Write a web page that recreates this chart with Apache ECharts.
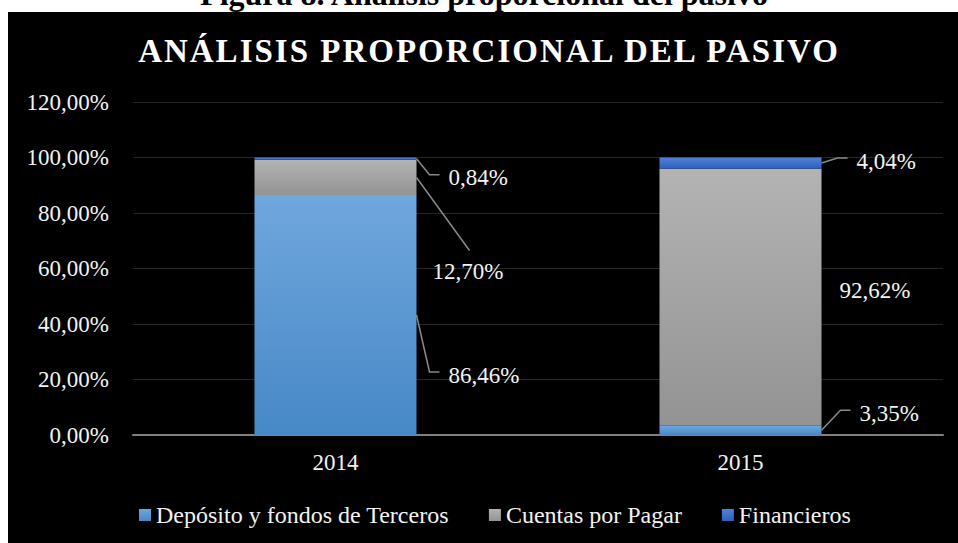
<!DOCTYPE html>
<html>
<head>
<meta charset="utf-8">
<script src="https://cdn.jsdelivr.net/npm/echarts@6/dist/echarts.min.js"></script>
<style>
  html, body { margin: 0; padding: 0; background: #ffffff; width: 958px; height: 543px; overflow: hidden; }
  #bg { position: absolute; left: 8px; top: 12px; width: 950px; height: 531px; background: #000000; }
  #chart { position: absolute; left: 0; top: 0; width: 958px; height: 543px; }
  #chart svg text[style*="33px"] { letter-spacing: 2px; }
</style>
</head>
<body>
<div id="bg"></div>
<div id="chart"></div>
<script>
// ---- data ----
const years = ['2014', '2015'];
const deposito = [86.46, 3.35];
const cuentas = [12.70, 92.62];
const financieros = [0.84, 4.04];
const seriesNames = ['Depósito y fondos de Terceros', 'Cuentas por Pagar', 'Financieros'];
const yTickLabels = ['0,00%', '20,00%', '40,00%', '60,00%', '80,00%', '100,00%', '120,00%'];
const chartTitle = 'ANÁLISIS PROPORCIONAL DEL PASIVO';
const figureCaption = 'Figura 8. Análisis proporcional del pasivo';

// ---- label placement (style only): offsets from bar right edge / segment centre ----
const labelPlacement = [
  [{ tx: 32, ty: 60, line: 'elbow' }, { tx: 38, ty: -17, line: 'elbow' }],
  [{ tx: 16, ty: 94, line: 'top' }, { tx: 18, ty: -7, line: 'none' }],
  [{ tx: 32, ty: 19, line: 'elbow' }, { tx: 35, ty: -2, line: 'elbow' }]
];

const FONT = '"Liberation Serif", "Times New Roman", serif';
const fmtPct = v => v.toFixed(2).replace('.', ',') + '%';

function grad(top, bottom) {
  return { type: 'linear', x: 0, y: 0, x2: 0, y2: 1,
    colorStops: [{ offset: 0, color: top }, { offset: 1, color: bottom }] };
}

const seriesValues = [deposito, cuentas, financieros];
const labelData = [];
seriesValues.forEach((vals, s) => {
  vals.forEach((v, i) => {
    let base = 0;
    for (let k = 0; k < s; k++) base += seriesValues[k][i];
    labelData.push([i, base, v, s]);
  });
});

const chart = echarts.init(document.getElementById('chart'), null, { renderer: 'svg' });
chart.setOption({
  animation: false,
  backgroundColor: 'transparent',
  graphic: [
    { type: 'text', x: 484, y: -6, silent: true,
      style: { text: figureCaption, font: 'bold 32px ' + FONT, fill: '#000000', align: 'center', verticalAlign: 'middle' } },
    { type: 'text', x: 489, y: 51, silent: true,
      style: { text: chartTitle, font: 'bold 33px ' + FONT, fill: '#ffffff', align: 'center', verticalAlign: 'middle' } }
  ],
  grid: { left: 133, right: 15, top: 102, bottom: 108 },
  legend: {
    data: seriesNames, left: 139, top: 503, padding: 0,
    icon: 'rect', itemWidth: 12, itemHeight: 12, itemGap: 40,
    textStyle: { color: '#f2f2f2', fontSize: 24, fontFamily: FONT }
  },
  xAxis: {
    type: 'category', data: years,
    axisLine: { lineStyle: { color: '#808080', width: 2 } },
    axisTick: { show: false },
    axisLabel: { color: '#f2f2f2', fontSize: 23, fontFamily: FONT, margin: 16 }
  },
  yAxis: {
    type: 'value', min: 0, max: 120, interval: 20,
    axisLine: { show: false }, axisTick: { show: false },
    axisLabel: { color: '#f2f2f2', fontSize: 23, fontFamily: FONT, margin: 24,
      formatter: v => yTickLabels[Math.round(v / 20)] },
    splitLine: { lineStyle: { color: '#262626', width: 1 } }
  },
  series: [
    { name: seriesNames[0], type: 'bar', stack: 'total', barWidth: '40%', data: deposito,
      itemStyle: { color: grad('#70a7dd', '#4788c7') } },
    { name: seriesNames[1], type: 'bar', stack: 'total', barWidth: '40%', data: cuentas,
      itemStyle: { color: grad('#b3b3b3', '#939393') } },
    { name: seriesNames[2], type: 'bar', stack: 'total', barWidth: '40%', data: financieros,
      itemStyle: { color: grad('#4f83d3', '#2f5fbd') } },
    { type: 'custom', data: labelData, z: 10, clip: false, silent: true,
      renderItem: function (params, api) {
        const i = api.value(0), base = api.value(1), v = api.value(2), s = api.value(3);
        const c = api.coord([i, base + v / 2]);
        const bw = api.size([1, 0])[0] * 0.4;
        const bx = c[0] + bw / 2, by = c[1];
        const p = labelPlacement[s][i];
        const tx = bx + p.tx, ty = by + p.ty;
        const children = [];
        if (p.line === 'elbow') {
          children.push({ type: 'polyline', shape: { points: [[bx, by], [tx - 19, ty - 3], [tx - 9, ty - 3]] },
            style: { stroke: '#8a8a8a', lineWidth: 1.5, fill: null } });
        } else if (p.line === 'top') {
          children.push({ type: 'polyline', shape: { points: [[bx, by], [tx + 37, ty - 21]] },
            style: { stroke: '#8a8a8a', lineWidth: 1.5, fill: null } });
        }
        children.push({ type: 'text', x: tx, y: ty,
          style: { text: fmtPct(v), font: '23px ' + FONT, fill: '#f2f2f2', align: 'left', verticalAlign: 'middle' } });
        return { type: 'group', children: children };
      }
    }
  ]
});
</script>
</body>
</html>
